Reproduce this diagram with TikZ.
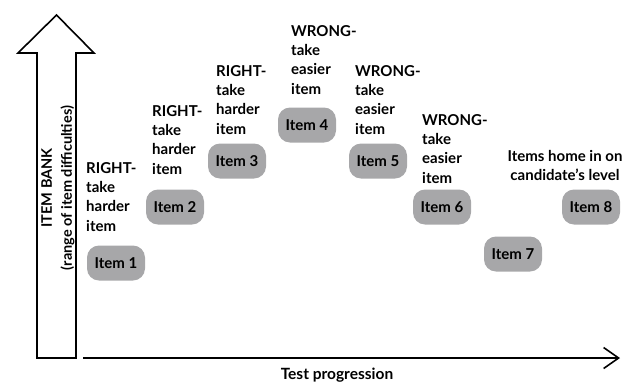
\documentclass[tikz,border=0pt]{standalone}
\usepackage{fontspec}
\setmainfont{Lato}
\usetikzlibrary{arrows.meta}
\definecolor{itemgray}{RGB}{167,167,169}
\begin{document}
\begin{tikzpicture}[x=1pt,y=-1pt,
  itembox/.style={draw=none, fill=itemgray, rounded corners=12pt,
    minimum width=58pt, minimum height=35pt, inner sep=0pt,
    font=\bfseries\fontsize{15}{19}\selectfont},
  note/.style={anchor=north west, inner sep=0pt, align=left,
    font=\bfseries\fontsize{15}{19.3}\selectfont},
  axis/.style={line width=1.6pt}]
\useasboundingbox (0,0) rectangle (635,381);

% item bank arrow (outlined)
\draw[line width=1.6pt, line join=miter]
  (37,358) -- (37,53) -- (18,53) -- (56.5,15) -- (94,53) -- (76,53) -- (76,358) -- cycle;
\node[rotate=90, align=center, inner sep=0pt,
  font=\bfseries\fontsize{14.5}{20}\selectfont] (bank) at (58,188)
  {ITEM BANK\\(range of item difficulties)};

% test progression axis
\coordinate (xstart) at (83,358);
\coordinate (xend) at (620,358);
\draw[axis, -{Straight Barb[length=15pt, width=21pt, line width=1.6pt]}] (xstart) -- (xend);
\node[font=\bfseries\fontsize{15.5}{18}\selectfont, inner sep=0pt, anchor=base] (prog) at (337,379) {Test progression};

% items
\node[itembox] (i1) at (116,263) {Item 1};
\node[itembox] (i2) at (175,207) {Item 2};
\node[itembox] (i3) at (237,161) {Item 3};
\node[itembox] (i4) at (307,125) {Item 4};
\node[itembox] (i5) at (378,161) {Item 5};
\node[itembox] (i6) at (442,207) {Item 6};
\node[itembox] (i7) at (513,254) {Item 7};
\node[itembox] (i8) at (591,207) {Item 8};

% decisions
\node[note] (n1) at (86,162) {RIGHT-\\take\\harder\\item};
\node[note] (n2) at (152,105) {RIGHT-\\take\\harder\\item};
\node[note] (n3) at (216,65) {RIGHT-\\take\\harder\\item};
\node[note] (n4) at (291,25) {WRONG-\\take\\easier\\item};
\node[note] (n5) at (355,65) {WRONG-\\take\\easier\\item};
\node[note] (n6) at (422,114) {WRONG-\\take\\easier\\item};
\node[note, anchor=north, align=center] (n8) at (565,150) {Items home in on\\candidate’s level};
\end{tikzpicture}
\end{document}
